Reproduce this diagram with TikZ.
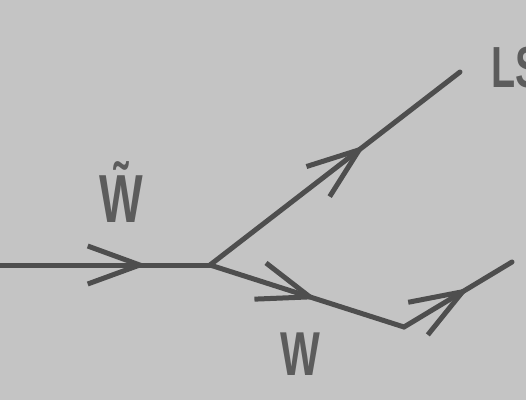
\documentclass[tikz,border=0pt]{standalone}
\usepackage{fontspec}
\setmainfont{Liberation Sans}
\usetikzlibrary{arrows.meta,decorations.markings}
\definecolor{bggray}{RGB}{196,196,196}
\definecolor{linegray}{RGB}{78,78,78}
\definecolor{textgray}{RGB}{92,92,92}
\tikzset{
  prop/.style={line width=5pt, draw=linegray, line cap=round, line join=round,
    postaction={decorate, decoration={markings,
      mark=at position #1 with {\arrow[linegray, line width=5pt]{Straight Barb[length=52pt, width=38pt]}}}}},
  lbl/.style={text=textgray, inner sep=0pt, xscale=0.68, transform shape},
}

\begin{document}
\begin{tikzpicture}[x=1pt, y=1pt]
    \useasboundingbox (0,0) rectangle (526,400);
    \clip (0,0) rectangle (526,400);
    \fill[bggray] (0,0) rectangle (526,400);
    % vertices
    \coordinate (in) at (0,135);
    \coordinate (v) at (210,135);
    \coordinate (ls) at (460,328);
    \coordinate (c) at (404,73);
    \coordinate (out) at (512,138);
    % lines
    \draw[prop=0.7] (in) -- (v);
    \draw[prop=0.62] (v) -- (ls);
    \draw[prop=0.55] (v) -- (c);
    \draw[prop=0.6] (c) -- (out);
    % labels
    \node[lbl, anchor=base, font=\bfseries\fontsize{68}{68}\selectfont] (wt) at (121,178) {\~{W}};
    \node[lbl, anchor=base, font=\bfseries\fontsize{62}{62}\selectfont] (w) at (300,25) {W};
    \node[lbl, anchor=base west, font=\bfseries\fontsize{58}{58}\selectfont] (lsl) at (491,313) {LS};
\end{tikzpicture}
\end{document}
